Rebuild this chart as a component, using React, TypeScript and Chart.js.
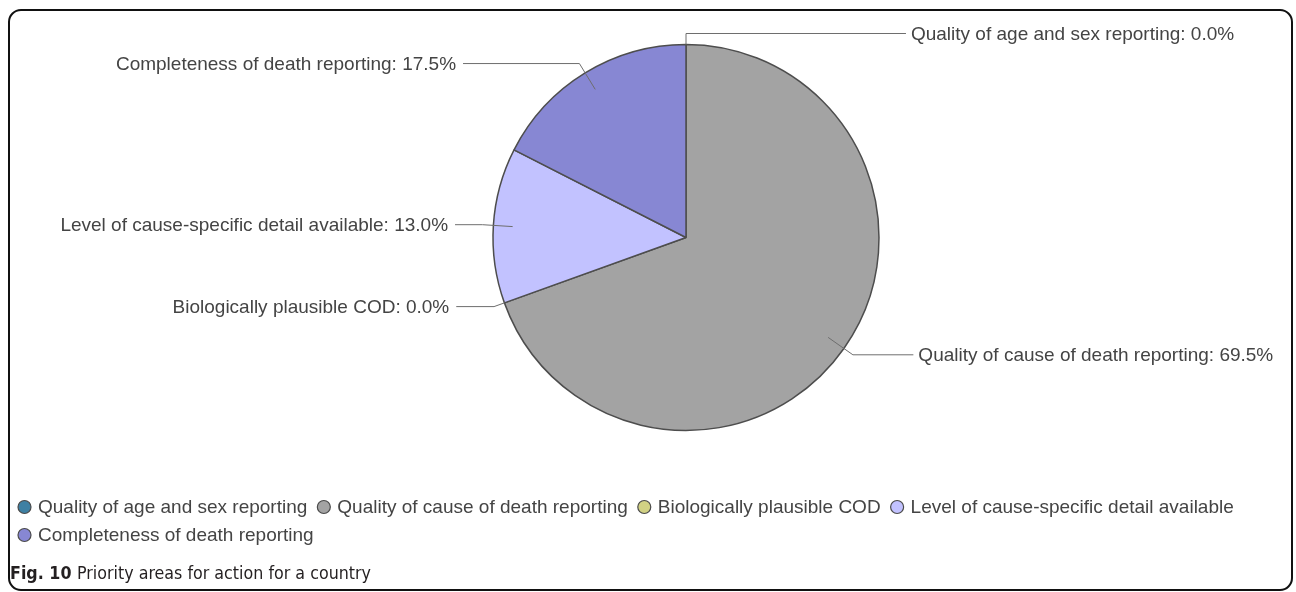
import { useEffect, useRef } from "react";
import { Chart, registerables } from "chart.js";

Chart.register(...registerables);

const categories = [
  "Quality of age and sex reporting",
  "Quality of cause of death reporting",
  "Biologically plausible COD",
  "Level of cause-specific detail available",
  "Completeness of death reporting",
];
const shares = [0.0, 69.5, 0.0, 13.0, 17.5];
const sliceColors = ["#3e80a3", "#a3a3a3", "#d1d184", "#c2c2ff", "#8787d3"];
const figLabel = "Fig. 10";
const figCaption = "Priority areas for action for a country";

const W = 1296;
const H = 592;
const LABEL_FONT = "19px 'Liberation Sans', Arial, sans-serif";

const overlay = {
  id: "overlay",
  beforeDraw(chart: any) {
    const ctx = chart.ctx;
    ctx.save();
    ctx.fillStyle = "#ffffff";
    ctx.fillRect(0, 0, W, H);
    ctx.restore();
  },
  afterDraw(chart: any) {
    const ctx: CanvasRenderingContext2D = chart.ctx;
    const meta = chart.getDatasetMeta(0);
    const values = chart.data.datasets[0].data as number[];
    ctx.save();
    // slice labels with leader lines
    ctx.font = LABEL_FONT;
    ctx.textBaseline = "middle";
    meta.data.forEach((arc: any, i: number) => {
      const p = arc.getProps(["x", "y", "startAngle", "endAngle", "outerRadius"], true);
      const mid = (p.startAngle + p.endAngle) / 2;
      const r = p.outerRadius;
      const anchorR = values[i] === 0 ? r : r * 0.9;
      const ax = p.x + Math.cos(mid) * anchorR;
      const ay = p.y + Math.sin(mid) * anchorR;
      const ex = p.x + Math.cos(mid) * (r + 11);
      const ey = p.y + Math.sin(mid) * (r + 11);
      const right = Math.cos(mid) >= -1e-9;
      const dy = ey - p.y;
      const off = r * 1.197 - 11 * Math.pow(dy / (r * 1.054), 2);
      const lx = right ? p.x + off : p.x - off;
      ctx.strokeStyle = "#6e6e6e";
      ctx.lineWidth = 1;
      ctx.beginPath();
      ctx.moveTo(ax, ay);
      ctx.lineTo(ex, ey);
      ctx.lineTo(lx, ey);
      ctx.stroke();
      ctx.fillStyle = "#444444";
      ctx.textAlign = right ? "left" : "right";
      const txt = `${chart.data.labels[i]}: ${values[i].toFixed(1)}%`;
      ctx.fillText(txt, right ? lx + 5 : lx - 7, ey + 1);
    });

    // legend
    const items = (Chart as any).overrides.pie.plugins.legend.labels.generateLabels(chart);
    ctx.font = LABEL_FONT;
    ctx.textAlign = "left";
    ctx.textBaseline = "middle";
    let x = 18;
    let y = 507;
    const maxX = 1285;
    items.forEach((it: any) => {
      const tw = ctx.measureText(it.text).width;
      if (x + 20 + tw > maxX) {
        x = 18;
        y += 28;
      }
      ctx.beginPath();
      ctx.arc(x + 6.5, y, 6.5, 0, Math.PI * 2);
      ctx.fillStyle = it.fillStyle;
      ctx.fill();
      ctx.strokeStyle = "#4a4a4a";
      ctx.lineWidth = 1.2;
      ctx.stroke();
      ctx.fillStyle = "#444444";
      ctx.fillText(it.text, x + 20, y + 1);
      x += 20 + tw + 10;
    });

    // caption
    const capFamily = "'Liberation Sans Narrow', 'DejaVu Sans Condensed', 'Open Sans', sans-serif";
    ctx.textBaseline = "alphabetic";
    ctx.font = `bold 18px ${capFamily}`;
    const w1 = ctx.measureText(figLabel + " ").width;
    ctx.font = `18px ${capFamily}`;
    const w2 = ctx.measureText(figCaption).width;
    const target = 361;
    const sx = target / (w1 + w2);
    ctx.save();
    ctx.translate(10, 579);
    ctx.scale(sx, 1);
    ctx.fillStyle = "#231f20";
    ctx.font = `bold 18px ${capFamily}`;
    ctx.fillText(figLabel + " ", 0, 0);
    ctx.font = `18px ${capFamily}`;
    ctx.fillText(figCaption, w1, 0);
    ctx.restore();

    // frame
    ctx.strokeStyle = "#111111";
    ctx.lineWidth = 2;
    ctx.beginPath();
    (ctx as any).roundRect(9, 10, 1283, 580, 12);
    ctx.stroke();
    ctx.restore();
  },
};

export default function App() {
  const ref = useRef<HTMLCanvasElement | null>(null);
  useEffect(() => {
    if (!ref.current) return;
    const chart = new Chart(ref.current, {
      type: "pie",
      data: {
        labels: categories,
        datasets: [
          {
            data: shares,
            backgroundColor: sliceColors,
            borderColor: "#4d4d4d",
            borderWidth: 1.5,
            radius: 193,
          } as any,
        ],
      },
      options: {
        animation: false,
        responsive: false,
        devicePixelRatio: 1,
        layout: { padding: { left: 436, right: 360, top: 30, bottom: 147 } },
        plugins: {
          legend: { display: false },
          tooltip: { enabled: false },
        },
      },
      plugins: [overlay],
    });
    return () => chart.destroy();
  }, []);
  return (
    <div style={{ position: "absolute", left: 0, top: 0, width: W, height: H }}>
      <canvas ref={ref} width={W} height={H} style={{ width: W, height: H, display: "block" }} />
    </div>
  );
}
